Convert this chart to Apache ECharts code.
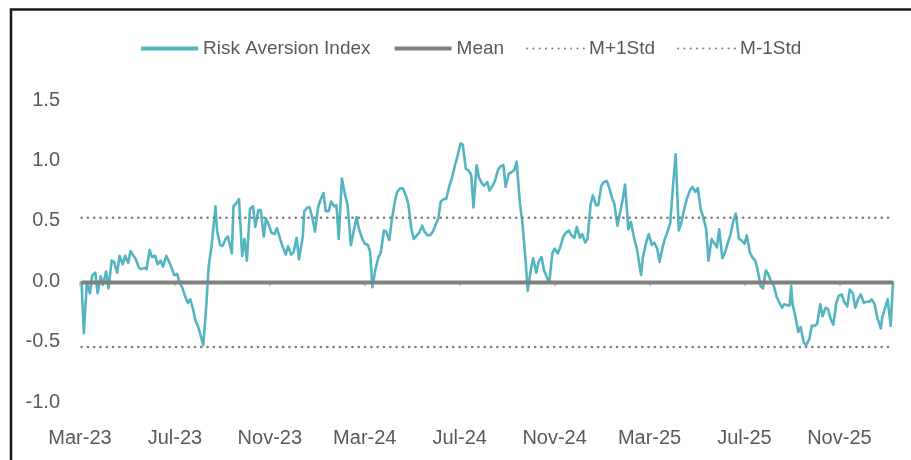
<!DOCTYPE html>
<html>
<head>
<meta charset="utf-8">
<script src="https://cdn.jsdelivr.net/npm/echarts@6/dist/echarts.min.js"></script>
<style>
  html, body { margin: 0; padding: 0; background: #fff; }
  #main { width: 911px; height: 460px; }
</style>
</head>
<body>
<div id="main"></div>
<script>
// twice-weekly readings of the index (one line per month)
var dates = [
  '2023-03-03','2023-03-06','2023-03-10','2023-03-14','2023-03-17','2023-03-21','2023-03-24','2023-03-28','2023-03-31',
  '2023-04-04','2023-04-07','2023-04-11','2023-04-14','2023-04-18','2023-04-21','2023-04-25','2023-04-28',
  '2023-05-02','2023-05-05','2023-05-09','2023-05-12','2023-05-16','2023-05-19','2023-05-23','2023-05-26','2023-05-30',
  '2023-06-02','2023-06-06','2023-06-09','2023-06-13','2023-06-16','2023-06-20','2023-06-23','2023-06-27','2023-06-30',
  '2023-07-04','2023-07-07','2023-07-11','2023-07-14','2023-07-18','2023-07-21','2023-07-25','2023-07-28',
  '2023-08-01','2023-08-04','2023-08-07','2023-08-11','2023-08-14','2023-08-18','2023-08-23','2023-08-25','2023-08-29',
  '2023-09-01','2023-09-05','2023-09-08','2023-09-13','2023-09-15','2023-09-19','2023-09-22','2023-09-26','2023-09-29',
  '2023-10-02','2023-10-06','2023-10-10','2023-10-13','2023-10-17','2023-10-20','2023-10-24','2023-10-27','2023-10-31',
  '2023-11-03','2023-11-07','2023-11-10','2023-11-14','2023-11-17','2023-11-21','2023-11-24','2023-11-28',
  '2023-12-01','2023-12-05','2023-12-08','2023-12-13','2023-12-15','2023-12-19','2023-12-22','2023-12-26','2023-12-29',
  '2024-01-02','2024-01-05','2024-01-09','2024-01-12','2024-01-16','2024-01-19','2024-01-23','2024-01-26','2024-01-29',
  '2024-02-02','2024-02-06','2024-02-09','2024-02-13','2024-02-16','2024-02-20','2024-02-23','2024-02-27',
  '2024-03-01','2024-03-05','2024-03-08','2024-03-11','2024-03-15','2024-03-19','2024-03-22','2024-03-26','2024-03-29',
  '2024-04-02','2024-04-05','2024-04-09','2024-04-12','2024-04-16','2024-04-19','2024-04-23','2024-04-26','2024-04-30',
  '2024-05-03','2024-05-07','2024-05-10','2024-05-14','2024-05-17','2024-05-21','2024-05-24','2024-05-28','2024-05-31',
  '2024-06-04','2024-06-07','2024-06-11','2024-06-14','2024-06-18','2024-06-21','2024-06-25','2024-06-28',
  '2024-07-02','2024-07-05','2024-07-09','2024-07-12','2024-07-16','2024-07-19','2024-07-23','2024-07-26','2024-07-30',
  '2024-08-02','2024-08-06','2024-08-09','2024-08-13','2024-08-16','2024-08-20','2024-08-23','2024-08-27','2024-08-30',
  '2024-09-03','2024-09-06','2024-09-10','2024-09-13','2024-09-17','2024-09-20','2024-09-24','2024-09-27',
  '2024-10-01','2024-10-04','2024-10-08','2024-10-11','2024-10-15','2024-10-18','2024-10-22','2024-10-25','2024-10-29',
  '2024-11-01','2024-11-05','2024-11-08','2024-11-12','2024-11-15','2024-11-19','2024-11-22','2024-11-26','2024-11-29',
  '2024-12-03','2024-12-06','2024-12-10','2024-12-13','2024-12-17','2024-12-20','2024-12-24','2024-12-27','2024-12-31',
  '2025-01-03','2025-01-07','2025-01-10','2025-01-14','2025-01-17','2025-01-21','2025-01-24','2025-01-28','2025-01-31',
  '2025-02-04','2025-02-07','2025-02-11','2025-02-14','2025-02-19','2025-02-21','2025-02-25','2025-02-28',
  '2025-03-04','2025-03-07','2025-03-11','2025-03-14','2025-03-18','2025-03-21','2025-03-25','2025-03-28',
  '2025-04-01','2025-04-04','2025-04-08','2025-04-11','2025-04-15','2025-04-18','2025-04-22','2025-04-25','2025-04-29',
  '2025-05-02','2025-05-06','2025-05-09','2025-05-13','2025-05-16','2025-05-20','2025-05-23','2025-05-27','2025-05-30',
  '2025-06-03','2025-06-06','2025-06-10','2025-06-13','2025-06-17','2025-06-20','2025-06-24','2025-06-27',
  '2025-07-01','2025-07-04','2025-07-08','2025-07-11','2025-07-15','2025-07-18','2025-07-22','2025-07-25','2025-07-29',
  '2025-08-01','2025-08-05','2025-08-08','2025-08-12','2025-08-15','2025-08-19','2025-08-22','2025-08-26','2025-08-29','2025-08-31',
  '2025-09-02','2025-09-05','2025-09-09','2025-09-12','2025-09-16','2025-09-19','2025-09-23','2025-09-26','2025-09-30',
  '2025-10-03','2025-10-07','2025-10-10','2025-10-14','2025-10-17','2025-10-21','2025-10-24','2025-10-28','2025-10-31',
  '2025-11-04','2025-11-07','2025-11-11','2025-11-14','2025-11-18','2025-11-21','2025-11-25','2025-11-28',
  '2025-12-02','2025-12-05','2025-12-09','2025-12-12','2025-12-16','2025-12-19','2025-12-24','2025-12-26',
  '2026-01-02','2026-01-06','2026-01-09'
];
var riskIndex = [
  0.00,-0.43,-0.01,-0.10,0.05,0.07,-0.10,0.04,-0.03,
  0.08,-0.06,0.17,0.16,0.07,0.21,0.14,0.21,
  0.15,0.25,0.21,0.18,0.11,0.10,0.11,0.10,0.26,
  0.20,0.21,0.14,0.17,0.12,0.21,0.17,0.11,0.05,
  0.06,-0.01,-0.06,-0.12,-0.18,-0.15,-0.24,-0.33,
  -0.39,-0.46,-0.53,-0.20,0.12,0.30,0.62,0.42,0.30,
  0.29,0.35,0.37,0.23,0.62,0.65,0.68,0.21,0.35,
  0.17,0.60,0.62,0.45,0.59,0.59,0.37,0.52,0.46,
  0.40,0.39,0.44,0.35,0.29,0.22,0.29,0.22,
  0.24,0.36,0.18,0.37,0.58,0.61,0.61,0.51,0.41,
  0.61,0.67,0.73,0.58,0.58,0.66,0.62,0.63,0.35,
  0.85,0.71,0.63,0.30,0.40,0.53,0.43,0.35,
  0.31,0.30,0.24,-0.05,0.10,0.20,0.24,0.42,0.41,
  0.34,0.50,0.66,0.74,0.77,0.77,0.71,0.64,0.43,
  0.35,0.38,0.40,0.46,0.41,0.38,0.38,0.41,0.46,
  0.52,0.66,0.68,0.68,0.79,0.85,0.96,1.03,
  1.14,1.13,0.93,0.92,0.88,0.61,0.96,0.86,0.81,
  0.79,0.82,0.75,0.79,0.83,0.92,0.95,0.96,0.78,
  0.89,0.90,0.92,0.99,0.65,0.50,0.20,-0.08,
  0.10,0.19,0.07,0.16,0.20,0.09,0.03,-0.01,0.23,
  0.27,0.23,0.28,0.37,0.40,0.42,0.38,0.36,0.45,
  0.36,0.39,0.32,0.35,0.64,0.71,0.63,0.63,0.79,
  0.82,0.83,0.78,0.69,0.64,0.46,0.55,0.68,0.80,
  0.43,0.49,0.35,0.27,0.05,0.19,0.32,0.39,
  0.30,0.32,0.27,0.16,0.28,0.35,0.42,0.48,
  0.82,1.05,0.42,0.48,0.60,0.68,0.75,0.78,0.74,
  0.77,0.59,0.53,0.43,0.17,0.35,0.32,0.28,0.43,
  0.19,0.23,0.32,0.38,0.50,0.56,0.35,0.34,
  0.31,0.38,0.24,0.20,0.17,0.10,-0.04,-0.06,0.09,
  0.06,-0.01,-0.03,-0.13,-0.17,-0.22,-0.19,-0.20,-0.20,-0.04,
  -0.20,-0.28,-0.42,-0.38,-0.51,-0.53,-0.48,-0.37,-0.37,
  -0.35,-0.19,-0.29,-0.22,-0.23,-0.32,-0.36,-0.18,-0.12,
  -0.11,-0.17,-0.21,-0.07,-0.10,-0.22,-0.14,-0.11,
  -0.18,-0.17,-0.17,-0.15,-0.19,-0.29,-0.39,-0.30,
  -0.15,-0.37,0.00
];
var meanValue = -0.01;
var stdValue = 0.535;

var tickLabels = ['Mar-23','Jul-23','Nov-23','Mar-24','Jul-24','Nov-24','Mar-25','Jul-25','Nov-25'];
var tickMonths = [0, 4, 8, 12, 16, 20, 24, 28, 32];

var FONT = "'Liberation Sans', Arial, sans-serif";
var TEXT = '#595959';

// months since 2023-03-01
function toMonths(s) {
  var p = s.split('-').map(Number);
  var dim = new Date(p[0], p[1], 0).getDate();
  return (p[0] - 2023) * 12 + (p[1] - 3) + (p[2] - 1) / dim;
}

var xs = dates.map(toMonths);
var x0 = xs[0], x1 = xs[xs.length - 1];
var seriesData = xs.map(function (x, i) { return [x, riskIndex[i]]; });

var chart = echarts.init(document.getElementById('main'), null, { renderer: 'canvas' });
chart.setOption({
  animation: false,
  backgroundColor: '#fff',
  textStyle: { fontFamily: FONT },
  graphic: [{
    type: 'rect',
    shape: { x: 11, y: 9.5, width: 1000, height: 600 },
    style: { fill: 'none', stroke: '#1a1a1a', lineWidth: 2.5 },
    silent: true
  }],
  legend: {
    left: 134,
    top: 34,
    itemWidth: 57,
    itemHeight: 14,
    itemGap: 22,
    itemStyle: { opacity: 0, borderWidth: 0 },
    textStyle: { color: TEXT, fontSize: 19, fontFamily: FONT },
    data: [
      { name: 'Risk Aversion Index', lineStyle: { width: 4 } },
      { name: 'Mean', lineStyle: { width: 4 } },
      { name: 'M+1Std' },
      { name: 'M-1Std' }
    ]
  },
  grid: { left: 80, right: 18, top: 100, bottom: 58 },
  xAxis: [{
    type: 'value',
    min: 0,
    max: x1,
    interval: 4,
    axisLine: { show: false, onZero: false },
    axisTick: { show: false },
    splitLine: { show: false },
    axisLabel: {
      customValues: tickMonths,
      margin: 26,
      color: TEXT,
      fontSize: 20,
      fontFamily: FONT,
      formatter: function (v) {
        var i = tickMonths.indexOf(Math.round(v));
        return i >= 0 ? tickLabels[i] : '';
      }
    }
  }, {
    type: 'value',
    min: 0,
    max: x1,
    interval: 4,
    position: 'bottom',
    axisLine: { show: true, onZero: true, lineStyle: { color: '#d9d9d9', width: 1 } },
    axisTick: { show: true, customValues: tickMonths, length: 5, lineStyle: { color: '#d0d0d0', width: 2 } },
    axisLabel: { show: false },
    splitLine: { show: false }
  }],
  yAxis: {
    type: 'value',
    min: -1,
    max: 1.5,
    interval: 0.5,
    axisLine: { show: false },
    axisTick: { show: false },
    splitLine: { show: false },
    axisLabel: {
      margin: 20,
      color: TEXT,
      fontSize: 20,
      fontFamily: FONT,
      formatter: function (v) { return v.toFixed(1); }
    }
  },
  series: [{
    name: 'Risk Aversion Index',
    type: 'line',
    data: seriesData,
    symbol: 'none',
    lineStyle: { color: '#53b5c0', width: 2.6, join: 'round' },
    itemStyle: { color: '#53b5c0' }
  }, {
    name: 'Mean',
    type: 'line',
    data: [[x0, meanValue], [x1, meanValue]],
    symbol: 'none',
    lineStyle: { color: '#808080', width: 4 },
    itemStyle: { color: '#808080' }
  }, {
    name: 'M+1Std',
    type: 'line',
    data: [[x0, meanValue + stdValue], [x1, meanValue + stdValue]],
    symbol: 'none',
    lineStyle: { color: '#808080', width: 2.6, type: [0.1, 6.2], cap: 'round' },
    itemStyle: { color: '#808080' }
  }, {
    name: 'M-1Std',
    type: 'line',
    data: [[x0, meanValue - stdValue], [x1, meanValue - stdValue]],
    symbol: 'none',
    lineStyle: { color: '#808080', width: 2.6, type: [0.1, 6.2], cap: 'round' },
    itemStyle: { color: '#808080' }
  }]
});
</script>
</body>
</html>
